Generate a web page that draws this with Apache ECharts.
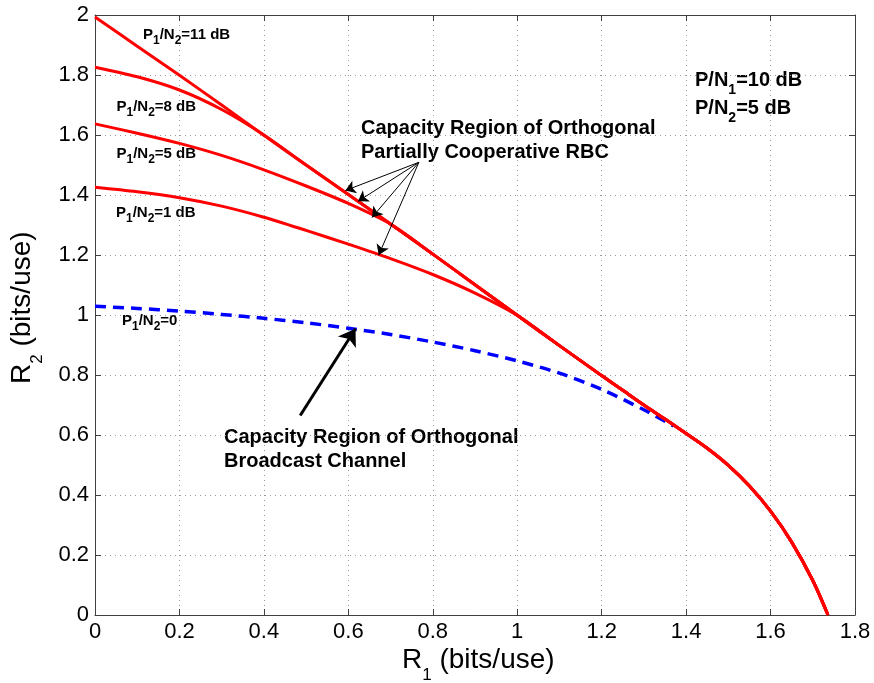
<!DOCTYPE html>
<html><head><meta charset="utf-8">
<script src="https://cdn.jsdelivr.net/npm/echarts@6/dist/echarts.min.js"></script>
<style>html,body{margin:0;padding:0;background:#fff}#c{width:874px;height:683px}</style>
</head><body><div id="c"></div>
<script>
// ---- data ----
const xTickLabels = ['0','0.2','0.4','0.6','0.8','1','1.2','1.4','1.6','1.8'];
const yTickLabels = ['0','0.2','0.4','0.6','0.8','1','1.2','1.4','1.6','1.8','2'];

// common boundary shared by the red curves (R1, R2)
const envR1 = [0.5, 0.6, 0.7, 0.8, 0.9, 1.0, 1.1, 1.2, 1.25, 1.3, 1.35, 1.4, 1.45, 1.5, 1.55, 1.6, 1.65, 1.7, 1.736];
const envR2 = [1.500, 1.402, 1.303, 1.203, 1.101, 0.999, 0.898, 0.798, 0.749, 0.700, 0.653, 0.605, 0.556, 0.499, 0.430, 0.346, 0.243, 0.115, 0];

const r1_11dB = [0, 0.1, 0.2, 0.3, 0.4];
const r2_11dB = [1.993, 1.896, 1.799, 1.700, 1.599];

const r1_8dB = [0, 0.1, 0.2, 0.3, 0.4];
const r2_8dB = [1.826, 1.794, 1.750, 1.685, 1.600];

const r1_5dB = [0, 0.1, 0.2, 0.3, 0.4, 0.5, 0.6];
const r2_5dB = [1.637, 1.606, 1.572, 1.532, 1.484, 1.430, 1.372];

const r1_1dB = [0, 0.1, 0.2, 0.3, 0.4, 0.5, 0.6, 0.7, 0.8, 0.9];
const r2_1dB = [1.426, 1.411, 1.391, 1.363, 1.326, 1.282, 1.236, 1.188, 1.135, 1.073];

const r1_bc = [0, 0.1, 0.2, 0.3, 0.4, 0.5, 0.6, 0.7, 0.8, 0.9, 1.0, 1.1, 1.2, 1.3, 1.37];
const r2_bc = [1.029, 1.022, 1.013, 1.002, 0.989, 0.974, 0.956, 0.935, 0.910, 0.881, 0.847, 0.806, 0.752, 0.684, 0.630];

// annotation arrows [from, to] in data units
const thinArrowFrom = [0.767, 1.509];
const thinArrowTips = [[0.593, 1.415], [0.623, 1.379], [0.656, 1.325], [0.672, 1.200]];
const bigArrow = [[0.486, 0.665], [0.617, 0.954]];

// ---- helpers ----
function zip(a, b) { return a.map((v, i) => [v, b[i]]); }
function withTail(r1, r2, fromIdx) {
  return zip(r1, r2).concat(zip(envR1.slice(fromIdx), envR2.slice(fromIdx)));
}
const FONT = '"Liberation Sans", Arial, sans-serif';
const ctx = document.createElement('canvas').getContext('2d');
function label(x, cy, parts, o) {
  const children = [];
  let ox = 0;
  for (const [t, sub] of parts) {
    const fs = sub ? o.subSize : o.size;
    const font = `${o.weight} ${fs}px ${FONT}`;
    ctx.font = font;
    const w = ctx.measureText(t).width;
    children.push({
      type: 'text', x: ox, y: sub ? o.subDy : 0,
      style: { text: t, fill: '#000', font: font, align: 'left', verticalAlign: 'middle',
               textAlign: 'left', textVerticalAlign: 'middle' }
    });
    ox += w;
  }
  return { type: 'group', x: x, y: cy, rotation: o.rotation || 0, children: children };
}
const small = { size: 15, subSize: 12, subDy: 6, weight: 'bold' };
const big = { size: 20, subSize: 14, subDy: 10, weight: 'bold' };
const axisName = { size: 28, subSize: 17, subDy: 15, weight: 'normal' };
function plain(x, cy, t, o) { return label(x, cy, [[t, 0]], o); }

const graphics = [
  label(143, 34.5, [['P', 0], ['1', 1], ['/N', 0], ['2', 1], ['=11 dB', 0]], small),
  label(116.5, 106.5, [['P', 0], ['1', 1], ['/N', 0], ['2', 1], ['=8 dB', 0]], small),
  label(116.5, 154, [['P', 0], ['1', 1], ['/N', 0], ['2', 1], ['=5 dB', 0]], small),
  label(116, 213, [['P', 0], ['1', 1], ['/N', 0], ['2', 1], ['=1 dB', 0]], small),
  label(122, 320.5, [['P', 0], ['1', 1], ['/N', 0], ['2', 1], ['=0', 0]], small),
  plain(361, 128, 'Capacity Region of Orthogonal', big),
  plain(361, 152.5, 'Partially Cooperative RBC', big),
  plain(224, 437, 'Capacity Region of Orthogonal', big),
  plain(224, 461, 'Broadcast Channel', big),
  label(695, 80, [['P/N', 0], ['1', 1], ['=10 dB', 0]], big),
  label(695, 108, [['P/N', 0], ['2', 1], ['=5 dB', 0]], big),
  label(402, 660, [['R', 0], ['1', 1], [' (bits/use)', 0]], axisName),
  label(22, 384, [['R', 0], ['2', 1], [' (bits/use)', 0]], Object.assign({ rotation: Math.PI / 2 }, axisName))
];

const axisColor = '#404040';
function baseAxis(min, max, pos, showLabels, labels) {
  return {
    type: 'value', min: min, max: max, interval: 0.2, position: pos,
    axisLine: { show: true, onZero: false, lineStyle: { color: axisColor, width: 1 } },
    axisTick: { show: true, inside: true, length: 6, lineStyle: { color: axisColor, width: 1 } },
    axisLabel: {
      show: showLabels, fontSize: 22, color: '#000', fontFamily: FONT, margin: 6,
      formatter: v => labels[Math.round(v / 0.2)]
    },
    splitLine: { show: showLabels, lineStyle: { color: '#9a9a9a', width: 1, type: [1, 4] } }
  };
}

const redLine = { color: '#ff0000', width: 3 };
function redSeries(data) {
  return { type: 'line', data: data, showSymbol: false, symbol: 'none', smooth: 0.3,
           lineStyle: redLine, itemStyle: { color: '#ff0000' }, z: 3, silent: true };
}

const chart = echarts.init(document.getElementById('c'), null, { renderer: 'canvas' });
chart.setOption({
  animation: false,
  backgroundColor: '#fff',
  grid: { left: 95, right: 19, top: 15, bottom: 68, containLabel: false },
  xAxis: [baseAxis(0, 1.8, 'bottom', true, xTickLabels), baseAxis(0, 1.8, 'top', false, xTickLabels)],
  yAxis: [baseAxis(0, 2, 'left', true, yTickLabels), baseAxis(0, 2, 'right', false, yTickLabels)],
  series: [
    { type: 'line', data: zip(r1_bc, r2_bc), showSymbol: false, symbol: 'none', smooth: 0.3,
      lineStyle: { color: '#0000ff', width: 3.5, type: [11, 7] }, z: 2, silent: true },
    redSeries(withTail(r1_1dB, r2_1dB, 5)),
    redSeries(withTail(r1_5dB, r2_5dB, 2)),
    redSeries(withTail(r1_8dB, r2_8dB, 0)),
    redSeries(withTail(r1_11dB, r2_11dB, 0)),
    { type: 'lines', coordinateSystem: 'cartesian2d', z: 4, silent: true,
      symbol: ['none', 'arrow'], symbolSize: [7, 10],
      lineStyle: { color: '#000', width: 1, opacity: 1, curveness: 0 },
      data: thinArrowTips.map(t => ({ coords: [thinArrowFrom, t] })) },
    { type: 'lines', coordinateSystem: 'cartesian2d', z: 4, silent: true,
      symbol: ['none', 'arrow'], symbolSize: [12, 16],
      lineStyle: { color: '#000', width: 3, opacity: 1, curveness: 0 },
      data: [{ coords: bigArrow }] }
  ],
  graphic: graphics
});
</script>
</body></html>
